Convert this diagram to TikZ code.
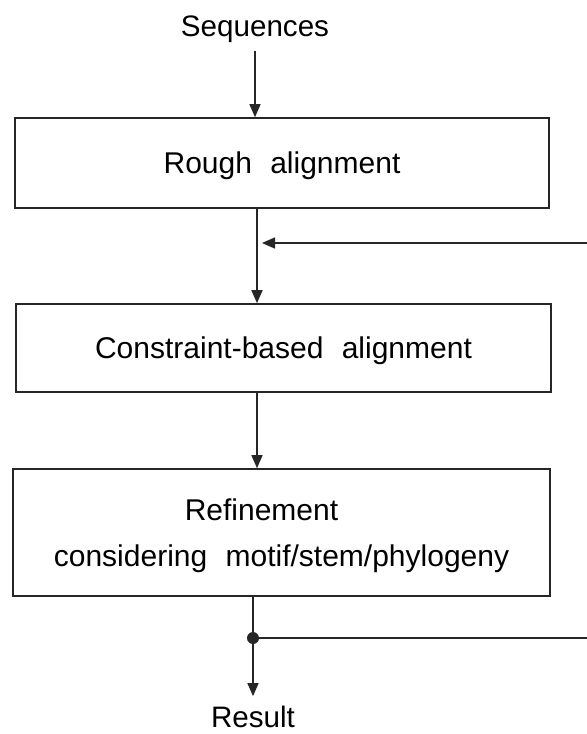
\documentclass[tikz,border=0pt]{standalone}
\usepackage{fontspec}
\setmainfont{Liberation Sans}[WordSpace=2.2]
\usepackage{tikz}
\usetikzlibrary{positioning, arrows.meta}

\begin{document}
\begin{tikzpicture}[
    x=0.5pt, y=-0.5pt,
    stage/.style={rectangle, draw=black!85, line width=0.8pt, align=center, inner sep=0pt, text depth=0pt, font=\fontsize{15}{23}\selectfont},
    label/.style={font=\fontsize{14.8}{23}\selectfont, inner sep=0pt, anchor=base},
    flow/.style={-{Triangle[length=6.5pt, width=5.5pt]}, line width=0.75pt, draw=black!85}
]
\useasboundingbox (0,0) rectangle (587,734);

% Input and output
\node[label] (seq) at (255,36) {Sequences};
\node[label] (result) at (253,727) {Result};

% Stages arranged vertically
\node[stage, minimum width=267pt, minimum height=45pt] (rough) at (282,163) {Rough alignment};
\node[stage, minimum width=267.5pt, minimum height=44pt] (constraint) at (283.5,348) {Constraint-based alignment};
\node[stage, minimum width=268.5pt, minimum height=63.5pt] (refine) at (281.5,532.5) {Refinement\hspace*{20pt}\\considering motif/stem/phylogeny};

% Loop coordinates
\coordinate (loopin) at (587,243);
\coordinate (loopout) at (587,638);
\coordinate (merge) at (257,243);
\coordinate (split) at (253,638);

% Connecting arrows
\draw[flow] ([yshift=-4pt]seq.south) -- (seq |- rough.north);
\draw[flow] (merge |- rough.south) -- (merge |- constraint.north);
\draw[flow] (constraint.south -| merge) -- (refine.north -| merge);
\draw[flow] (split |- refine.south) -- ([yshift=4.5pt]result.north -| split);
\draw[flow] (loopin) -- ([xshift=2.5pt]merge);
\draw[line width=0.75pt, draw=black!85] (split) -- (loopout);
\fill[black!85] (split) circle (3pt);

\end{tikzpicture}
\end{document}
